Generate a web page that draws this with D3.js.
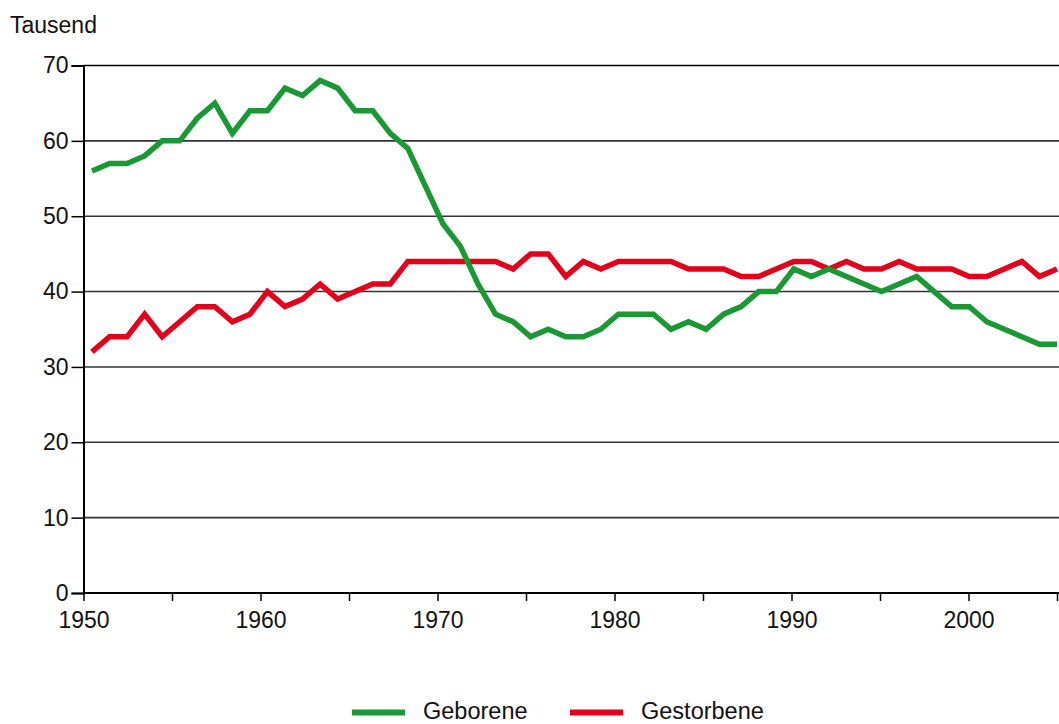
<!DOCTYPE html>
<html>
<head>
<meta charset="utf-8">
<script src="https://cdn.jsdelivr.net/npm/d3@7/dist/d3.min.js"></script>
<style>
  html, body { margin: 0; padding: 0; background: #fff; }
  svg { display: block; }
  text { font-family: "Liberation Sans", Arial, Helvetica, sans-serif; fill: #111; }
</style>
</head>
<body>
<svg id="chart" width="1059" height="724"></svg>
<script>
const years = d3.range(1950, 2006);
const geborene = [
  56,57,57,58,60,60,63,65,61,64,
  64,67,66,68,67,64,64,61,59,54,
  49,46,41,37,36,34,35,34,34,35,
  37,37,37,35,36,35,37,38,40,40,
  43,42,43,42,41,40,41,42,40,38,
  38,36,35,34,33,33
];
const gestorbene = [
  32,34,34,37,34,36,38,38,36,37,
  40,38,39,41,39,40,41,41,44,44,
  44,44,44,44,43,45,45,42,44,43,
  44,44,44,44,43,43,43,42,42,43,
  44,44,43,44,43,43,44,43,43,43,
  42,42,43,44,42,43
];
const yTicks = [0,10,20,30,40,50,60,70];
const xTicksMajor = [1950,1960,1970,1980,1990,2000];
const xTicksAll = [1950,1955,1960,1965,1970,1975,1980,1985,1990,1995,2000,2005];
const seriesNames = ["Geborene", "Gestorbene"];
const colors = ["#1a9833", "#e2001a"];
const yTitle = "Tausend";

(function () {
const svg = d3.select("#chart");
const pLeft = 83.5, pRight = 1059, plotRight = 1057, pTop = 65.5, pBottom = 593;
const fs = 23;

const x = d3.scaleLinear().domain([1950, 2005]).range([pLeft, plotRight]);
const xp = d3.scalePoint().domain(years).range([92, plotRight]);
const y = d3.scaleLinear().domain([0, 70]).range([pBottom, pTop]);

// gridlines
svg.append("g")
  .selectAll("line")
  .data(yTicks.filter(d => d > 0))
  .join("line")
  .attr("x1", pLeft).attr("x2", pRight)
  .attr("y1", d => y(d)).attr("y2", d => y(d))
  .attr("stroke", d => d === 70 ? "#000" : "#333")
  .attr("stroke-width", 1.6);

// y axis
const yAxis = svg.append("g")
  .attr("transform", `translate(${pLeft},0)`)
  .call(d3.axisLeft(y).tickValues(yTicks).tickSize(12).tickPadding(3));
yAxis.select(".domain").attr("stroke", "#000").attr("stroke-width", 2);
yAxis.selectAll(".tick line").attr("stroke", "#000").attr("stroke-width", 1.5);
yAxis.selectAll(".tick text").attr("font-size", fs).attr("fill", "#111")
  .style("font-family", '"Liberation Sans", Arial, sans-serif');

// x axis
const xAxis = svg.append("g")
  .attr("transform", `translate(0,${pBottom})`)
  .call(d3.axisBottom(x).tickValues(xTicksAll).tickSize(8).tickPadding(11)
    .tickFormat(d => xTicksMajor.includes(d) ? String(d) : ""));
xAxis.select(".domain").attr("stroke", "#000").attr("stroke-width", 2)
  .attr("d", `M${pLeft},0H${pRight}`);
xAxis.selectAll(".tick line").attr("stroke", "#000").attr("stroke-width", 1.5);
xAxis.selectAll(".tick text").attr("font-size", fs).attr("fill", "#111")
  .style("font-family", '"Liberation Sans", Arial, sans-serif');

// title
svg.append("text").attr("x", 10).attr("y", 32.5)
  .attr("font-size", fs).text(yTitle);

// lines
const line = d3.line().x((d, i) => xp(years[i])).y(d => y(d));
svg.append("defs").append("clipPath").attr("id", "clip")
  .append("rect").attr("x", pLeft).attr("y", 0).attr("width", pRight - pLeft).attr("height", pBottom);

[[gestorbene, 1], [geborene, 0]].forEach(([s, idx]) => {
  svg.append("path")
    .datum(s)
    .attr("d", line)
    .attr("fill", "none")
    .attr("stroke", colors[idx])
    .attr("stroke-width", 5.5)
    .attr("stroke-linejoin", "miter")
    .attr("clip-path", "url(#clip)");
});

// legend
const legendPos = [[352, 423], [570, 641]];
seriesNames.forEach((n, i) => {
  const g = svg.append("g");
  g.append("line")
    .attr("x1", legendPos[i][0]).attr("x2", legendPos[i][0] + 53)
    .attr("y1", 712.5).attr("y2", 712.5)
    .attr("stroke", colors[i]).attr("stroke-width", 6);
  g.append("text").attr("x", legendPos[i][1]).attr("y", 719)
    .attr("font-size", 23.5).text(n);
});
})();
</script>
</body>
</html>
